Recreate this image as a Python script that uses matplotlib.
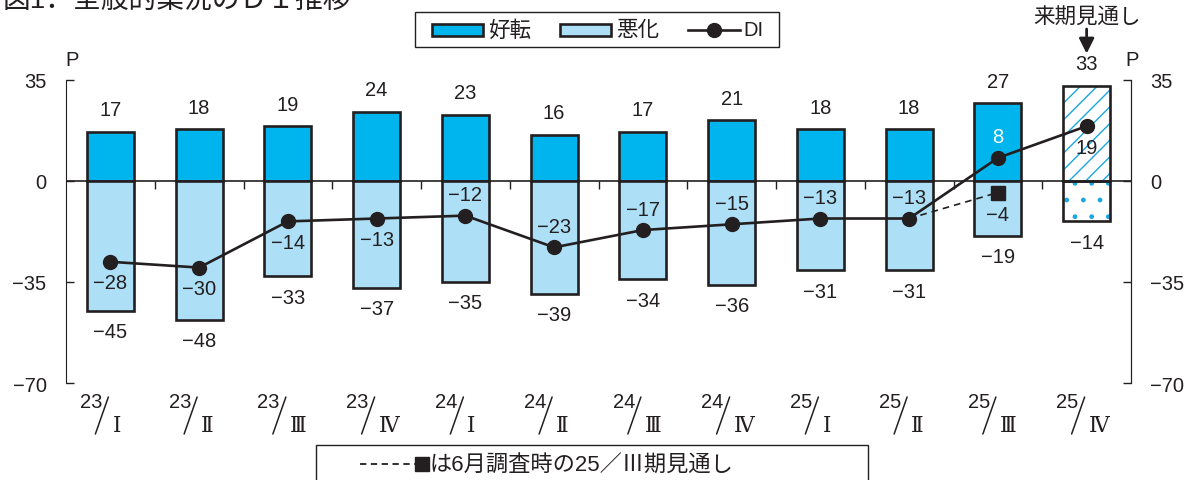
import matplotlib.pyplot as plt
from matplotlib.patches import Rectangle
from matplotlib.lines import Line2D
from matplotlib.transforms import blended_transform_factory, offset_copy

plt.rcParams['font.family'] = ['Liberation Sans', 'Noto Sans CJK JP', 'DejaVu Sans']
plt.rcParams['hatch.linewidth'] = 1.0

# 期間
years = ['23', '23', '23', '23', '24', '24', '24', '24', '25', '25', '25', '25']
quarters = ['Ⅰ', 'Ⅱ', 'Ⅲ', 'Ⅳ', 'Ⅰ', 'Ⅱ', 'Ⅲ', 'Ⅳ', 'Ⅰ', 'Ⅱ', 'Ⅲ', 'Ⅳ']
# 好転・悪化の割合（最後は来期見通し）
better = [17, 18, 19, 24, 23, 16, 17, 21, 18, 18, 27, 33]
worse = [-45, -48, -33, -37, -35, -39, -34, -36, -31, -31, -19, -14]
di = [-28, -30, -14, -13, -12, -23, -17, -15, -13, -13, 8, 19]
# 6月調査時の25/III期見通し
prev_di = -4

DARK = '#231F20'
BLUE = '#00B5EE'
LIGHT = '#ADDFF6'
HATCH = '#1AA7E0'
W = 0.53
FW, FH = 1186, 481

def fmt(v):
    return str(v).replace('-', '\u2212')

def fx(px):
    return px / FW

def fy(py):
    return 1 - py / FH

fig = plt.figure(figsize=(FW / 100, FH / 100), dpi=100)
ax = fig.add_axes([fx(66), fy(384), (1131 - 66) / FW, (384 - 81) / FH])
x = list(range(len(years)))
n = len(x) - 1

# 実績の棒
ax.bar(x[:n], better[:n], width=W, color=BLUE, edgecolor=DARK, linewidth=1.9, zorder=2)
ax.bar(x[:n], worse[:n], width=W, color=LIGHT, edgecolor=DARK, linewidth=1.9, zorder=2)
# 来期見通しの棒（ハッチ）
ax.bar(x[n], better[n], width=W, color='white', edgecolor=HATCH, hatch='//', linewidth=0, zorder=2)
ax.bar(x[n], worse[n], width=W, color='white', edgecolor=HATCH, hatch='.', linewidth=0, zorder=2)
ax.bar(x[n], better[n], width=W, fill=False, edgecolor=DARK, linewidth=1.9, zorder=3)
ax.bar(x[n], worse[n], width=W, fill=False, edgecolor=DARK, linewidth=1.9, zorder=3)

ax.axhline(0, color=DARK, lw=1.2, zorder=1)
ax.plot([i + 0.5 for i in x[:-1]], [0] * n, ls='none', marker=3, ms=6, mew=1, color=DARK, zorder=1)

# DI
ax.plot([x[n-2], x[n-1]], [di[n-2], prev_di], ls=(0, (4, 3)), lw=1.2, color=DARK, zorder=4)
ax.plot(x[n-1], prev_di, marker='s', ms=10, color=DARK, zorder=5)
ax.plot(x, di, color=DARK, lw=1.9, marker='o', ms=10, zorder=5)

fs = 14.5
for i in x:
    ax.annotate(fmt(better[i]), (i, better[i]), xytext=(0, 22), textcoords='offset pixels',
                ha='center', va='center', fontsize=fs, color=DARK)
    ax.annotate(fmt(worse[i]), (i, worse[i]), xytext=(0, -21), textcoords='offset pixels',
                ha='center', va='center', fontsize=fs, color=DARK)
    above = 4 <= i <= 10
    ax.annotate(fmt(di[i]), (i, di[i]), xytext=(0, 21 if above else -21), textcoords='offset pixels',
                ha='center', va='center', fontsize=fs, color='white' if di[i] > 0 and above else DARK,
                zorder=6)
ax.annotate(fmt(prev_di), (x[n-1], prev_di), xytext=(0, -22), textcoords='offset pixels',
            ha='center', va='center', fontsize=fs, color=DARK, zorder=6)

# 期間ラベル（年／期）
base = blended_transform_factory(ax.transData, ax.transAxes)
slash_top = offset_copy(base, fig=fig, x=-2, y=-14, units='dots')
for i in x:
    ax.annotate(years[i], (i, 0), xycoords=base, xytext=(-8, -18.5),
                textcoords='offset pixels', ha='right', va='center', fontsize=14.5, color=DARK)
    ax.annotate('', (i, 0), xycoords=slash_top, xytext=(-13, -37), textcoords='offset pixels',
                arrowprops=dict(arrowstyle='-', lw=1.1, color=DARK, shrinkA=0, shrinkB=0))
    ax.annotate(quarters[i], (i, 0), xycoords=base, xytext=(2, -42),
                textcoords='offset pixels', ha='left', va='center', fontsize=15.5, color=DARK,
                family=['DejaVu Serif', 'Noto Sans CJK JP'])

ax.set_xlim(-0.5, 11.5)
ax.set_ylim(-70, 35)
ax.set_xticks([])
yt = [35, 0, -35, -70]
ax.set_yticks(yt)
ax.set_yticklabels([fmt(v) for v in yt], fontsize=fs)
ax.tick_params(axis='y', direction='in', length=6, width=1, pad=14, colors=DARK)
for s in ['top', 'bottom']:
    ax.spines[s].set_visible(False)
for s in ['left', 'right']:
    ax.spines[s].set_color(DARK)

ax2 = ax.twinx()
ax2.set_ylim(-70, 35)
ax2.set_yticks(yt)
ax2.set_yticklabels([fmt(v) for v in yt], fontsize=fs)
ax2.tick_params(axis='y', direction='in', length=6, width=1, pad=14, colors=DARK)
for s in ['top', 'bottom', 'left']:
    ax2.spines[s].set_visible(False)
ax2.spines['right'].set_color(DARK)

fig.text(fx(72), fy(60), 'P', fontsize=fs, ha='center', va='center', color=DARK)
fig.text(fx(1132), fy(60), 'P', fontsize=fs, ha='center', va='center', color=DARK)

# 来期見通しの矢印
ax.annotate('', xy=(x[n], 1), xycoords=base, xytext=(0, 51), textcoords='offset pixels',
            arrowprops=dict(arrowstyle='-|>,head_length=0.6,head_width=0.3', mutation_scale=15,
                            color=DARK, lw=2, shrinkA=0, shrinkB=19))
ax.annotate('来期見通し', (x[n], 1), xycoords=base, xytext=(0, 63),
            textcoords='offset pixels', ha='center', va='center', fontsize=15.5, color=DARK)

# タイトル（上端）
fig.text(0.002, fy(1), '図1．全般的業況のＤＩ推移', fontsize=20, va='center', ha='left', color=DARK)

# 凡例
fig.patches.append(Rectangle((fx(415), fy(48)), (779 - 415) / FW, 35 / FH, transform=fig.transFigure,
                             facecolor='white', edgecolor=DARK, lw=1))
for left, color in [(432, BLUE), (560, LIGHT)]:
    fig.patches.append(Rectangle((fx(left), fy(37)), 51 / FW, 12 / FH, transform=fig.transFigure,
                                 facecolor=color, edgecolor=DARK, lw=1.9))
fig.add_artist(Line2D([fx(688), fx(740)], [fy(31)] * 2, transform=fig.transFigure,
                      color=DARK, lw=1.9))
fig.add_artist(Line2D([fx(714)], [fy(31)], transform=fig.transFigure, color=DARK, marker='o', ms=10))
for left, label in [(488, '好転'), (616, '悪化'), (743, 'DI')]:
    fig.text(fx(left), fy(31), label, fontsize=15.5 if label != 'DI' else fs, va='center',
             ha='left', color=DARK)

# 注記
fig.patches.append(Rectangle((fx(316), -0.05), 552 / FW, (481 - 446) / FH + 0.05,
                             transform=fig.transFigure, fill=False, edgecolor=DARK, lw=1))
fig.add_artist(Line2D([fx(360), fx(416)], [fy(465)] * 2, transform=fig.transFigure,
                      color=DARK, lw=1.3, ls=(0, (3.5, 2.5))))
fig.add_artist(Line2D([fx(422)], [fy(465)], transform=fig.transFigure, color=DARK,
                      marker='s', ms=10, ls='none'))
fig.text(fx(430), fy(466), 'は6月調査時の25／Ⅲ期見通し', fontsize=16, va='center', ha='left',
         color=DARK)

fig.savefig('out.png', dpi=100)
